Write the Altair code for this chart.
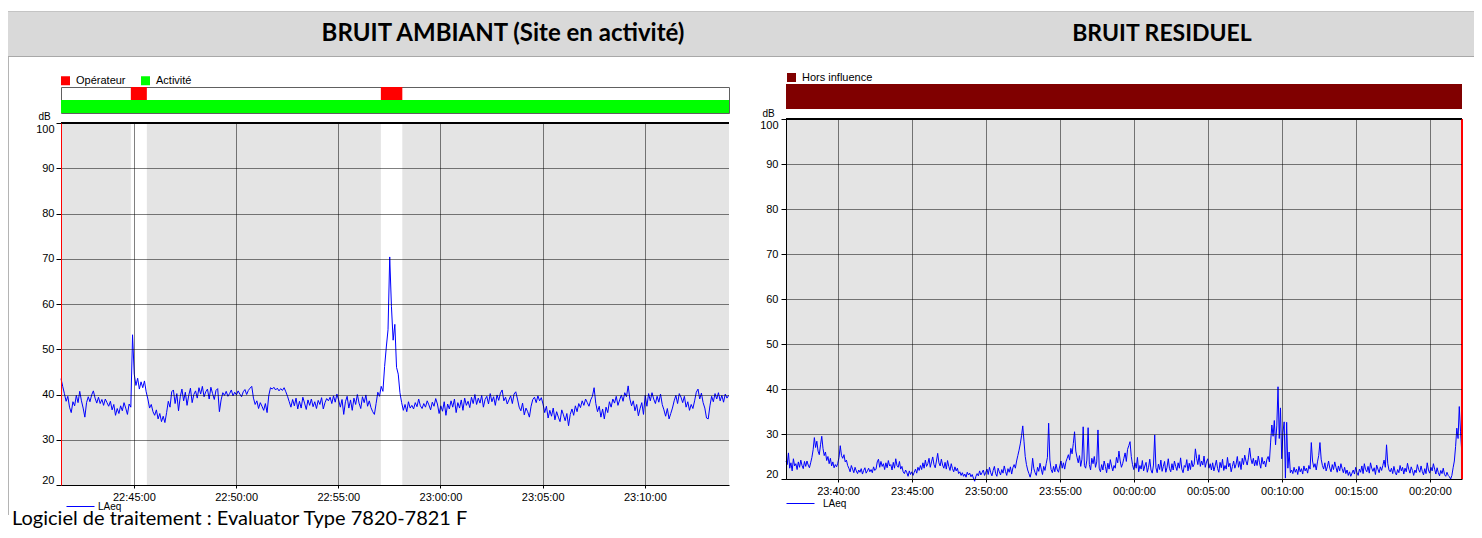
import altair as alt
import pandas as pd
import numpy as np

FONT = "Liberation Sans"
TITLE_FONT = "Lato"

# ---------------- texts ----------------
titre_gauche = "BRUIT AMBIANT (Site en activité)"
titre_droite = "BRUIT RESIDUEL"
pied_de_page = "Logiciel de traitement : Evaluator Type 7820-7821 F"

# ---------------- left panel: ambient noise ----------------
amb_debut = "2024-01-01T22:41:26"
amb_fin = "2024-01-01T23:14:07"
amb_pas_s = 5
amb_laeq = [
    43.5, 41.8, 40.2, 38.5, 39.6, 37.2, 36.0, 38.4, 37.5, 39.8, 38.2, 40.7,
    38.6, 37.0, 35.0, 38.2, 39.5, 38.4, 39.9, 40.8, 39.2, 38.1, 39.4, 38.0,
    38.9, 37.6, 39.0, 38.2, 37.4, 38.5, 36.6, 37.8, 35.4, 36.9, 35.8, 37.5,
    36.4, 38.2, 37.0, 35.6, 37.9, 37.2, 53.2,
    44.5, 42.0, 43.6, 41.2, 42.8, 41.5, 43.0, 40.6,
    39.0, 37.0, 37.8, 36.2, 35.4, 36.6, 34.6, 35.8,
    34.0, 35.2, 33.8, 36.0,
    38.5, 37.2, 40.6, 41.0,
    38.0, 40.2, 36.4, 39.5, 41.2, 38.6, 40.5, 37.6, 39.8, 41.4, 38.2, 40.0,
    40.8, 39.2, 41.5, 40.1, 41.8, 39.5, 40.6, 41.2, 39.0, 41.6, 40.2, 38.9, 40.9, 41.3,
    36.2, 38.8,
    40.4, 39.8, 40.7, 39.6, 40.2, 41.0, 39.7, 40.5, 39.9, 40.8, 40.1, 39.5, 40.6, 41.1, 40.0, 40.9, 41.4, 41.8,
    39.2, 37.8, 38.6, 36.9, 38.2, 37.4, 36.5, 38.0, 36.0,
    39.8, 41.5, 41.2, 41.6, 41.0, 41.4, 40.8, 41.3, 40.9, 41.5, 40.6, 39.6, 38.4,
    37.2, 38.9, 37.5, 39.2, 36.8, 38.5, 37.0, 39.4, 38.1, 36.7, 38.8, 37.6, 39.0, 37.3, 38.4, 36.9, 38.7, 37.8, 39.3, 36.8, 38.2, 39.1,
    38.6, 39.4, 38.0, 39.7, 38.3, 40.1, 38.8, 37.2, 38.9, 35.6,
    38.4, 39.6, 37.0, 38.8, 36.5, 39.2, 37.8, 40.0, 38.1, 36.9, 39.5, 38.2, 39.9, 37.4, 38.6, 37.1, 36.2, 35.6,
    38.0, 40.5, 39.6, 41.8, 40.7,
    46.2, 50.5, 54.3, 70.4, 59.5, 52.0, 55.5, 46.0, 44.5, 40.4, 38.2,
    36.5, 37.8, 36.2, 38.4, 37.0, 37.6, 36.8, 38.2, 37.3, 39.0, 37.5, 36.9, 38.0, 37.2, 38.6, 37.7, 36.6, 38.3, 37.4, 39.1, 37.9,
    35.8, 37.5, 36.3, 38.4, 35.4, 37.9, 36.8, 38.6, 37.2, 39.0, 36.0, 38.2, 37.0, 38.8, 36.5, 39.2, 37.6, 38.5, 37.1, 39.4, 38.0, 40.0,
    37.8, 39.2, 38.1, 39.8, 37.2, 38.9, 39.6, 37.9, 40.2, 38.4, 39.5, 37.6, 39.9, 38.7, 40.3, 41.0, 38.6, 39.4, 37.9, 38.8, 39.7, 38.0, 40.1, 40.6, 39.0,
    37.2, 36.4, 38.1, 35.5, 37.0, 36.2, 35.0, 37.4, 38.9, 39.4,
    38.2, 39.7, 38.6, 39.3, 37.9,
    36.0, 37.4, 34.8, 36.5, 35.2, 37.0, 34.4, 36.2, 35.0, 34.0, 36.6, 35.5, 34.2, 35.8, 33.1,
    35.6, 36.8, 35.4, 37.5, 36.2, 38.0, 37.1, 38.6, 37.6, 39.0, 38.2, 37.4, 38.8, 39.6, 41.5,
    38.0, 36.2, 37.4, 35.0, 36.8, 34.6, 37.2, 36.0,
    38.4, 37.2, 39.0, 38.1, 39.6, 37.6, 38.8, 39.9, 38.5, 40.4, 39.5, 41.9,
    39.0, 37.5, 38.6, 36.4, 37.8, 35.3, 36.9, 38.2, 35.6,
    39.8, 37.4, 40.2,
    38.6, 40.4, 39.0, 38.0, 39.6, 38.3, 40.1, 37.8,
    36.6, 35.2, 36.9, 34.6, 35.8, 37.0,
    38.6, 39.8, 38.0, 40.2, 39.4, 38.2, 39.6,
    37.2, 38.4, 36.5, 37.8, 36.9, 38.6,
    40.5, 41.2, 39.0, 40.3,
    38.2, 37.0, 34.8, 34.6, 37.5,
    39.6, 38.4, 40.2, 39.0, 40.4, 38.6, 39.8, 38.3, 40.1, 39.2, 39.8,
]
amb_operateur_debut = ["2024-01-01T22:44:51", "2024-01-01T22:57:05"]
amb_operateur_fin = ["2024-01-01T22:45:38", "2024-01-01T22:58:08"]
amb_activite_debut = ["2024-01-01T22:41:26"]
amb_activite_fin = ["2024-01-01T23:14:07"]
amb_ticks = ["2024-01-01T22:45:00", "2024-01-01T22:50:00", "2024-01-01T22:55:00",
             "2024-01-01T23:00:00", "2024-01-01T23:05:00", "2024-01-01T23:10:00"]
amb_categories = ["Opérateur", "Activité"]
amb_couleurs = ["#ff0000", "#00ff00"]

# ---------------- right panel: residual noise ----------------
res_debut = "2024-01-01T23:36:29"
res_fin = "2024-01-02T00:22:10"
res_pas_s = 5
res_laeq = [
    24.0, 23.2, 25.8, 22.4, 23.6, 21.8, 24.5, 22.9, 23.4, 22.1, 23.8, 22.6, 24.2, 23.0, 22.3, 23.9, 22.8, 24.0, 23.1, 22.5,
    23.6, 24.8, 26.5, 29.2, 27.0, 28.4, 26.2, 25.4, 27.6, 29.5, 26.8,
    25.2, 26.0, 24.1, 25.0, 23.4, 24.6, 22.9, 23.8, 22.5, 23.2, 22.7,
    23.5, 24.8, 27.4, 25.2, 24.6, 25.4, 23.8, 24.2, 23.0,
    22.4, 21.6, 23.0, 22.2, 21.4, 22.6, 21.8, 21.2, 22.0, 21.5, 22.3, 21.1, 21.9, 22.5, 21.3, 21.8, 22.4, 21.6, 22.1, 21.4, 22.7, 21.9, 22.2,
    23.8, 24.4, 22.6, 23.9, 22.8, 23.4, 22.1, 23.6, 22.5, 24.1, 22.9, 23.2, 22.0, 23.7, 22.4, 24.5, 23.0, 22.6, 23.9, 22.2, 22.8, 21.6,
    21.2, 22.0, 21.4, 20.6, 21.8, 21.0, 21.6, 20.8, 21.5, 22.2, 21.3, 22.6, 21.9,
    23.0, 22.1, 23.6, 22.4, 24.2, 22.8, 23.4, 24.6, 22.6, 23.8, 24.9, 23.2, 22.5, 24.0, 25.7, 23.6,
    22.9, 24.4, 23.1, 22.4, 23.7, 22.2, 24.1, 22.8, 21.9, 23.4, 22.3, 21.6, 22.7, 21.8, 22.4, 21.2,
    21.6, 20.8, 21.4, 20.6, 21.1, 20.4, 21.5, 20.9, 21.3, 20.5, 21.0, 20.2, 19.5, 20.6, 21.2, 20.7, 21.8, 20.9, 21.4, 22.0, 20.8, 21.5,
    22.2, 21.0, 22.6, 21.4, 20.7, 21.9, 22.8, 21.2, 20.6, 22.4, 21.6, 20.9, 22.1, 21.3, 22.9, 21.7, 20.8, 22.3, 21.5, 22.7, 21.1, 22.5, 23.2, 22.4,
    24.0, 25.2, 26.4, 27.8, 29.6, 31.8, 28.4, 25.0, 23.2,
    22.0, 21.2, 20.4, 21.6, 24.6, 22.3, 21.4, 20.8, 22.6, 21.7, 23.5, 22.2, 21.0, 22.8, 21.9, 23.4, 24.8,
    32.4,
    24.2, 22.1, 21.4, 22.8, 21.6, 23.3, 22.0, 21.5, 22.9, 24.0, 22.4, 23.6, 22.2, 23.8, 24.6,
    25.4, 24.2, 26.8, 25.6, 27.9, 30.5, 26.2, 24.8,
    23.6, 25.2, 22.8, 24.4, 31.6,
    23.0, 22.4, 24.2, 31.4,
    23.2, 22.0, 24.6, 23.4, 25.0, 22.6, 23.8,
    30.9,
    22.4, 21.6, 23.2, 22.0, 24.0, 22.8, 21.4, 23.5, 22.2, 24.3, 22.9, 21.8, 23.0, 22.4, 24.8, 23.6, 26.2, 24.0, 22.6, 23.4, 24.6, 25.8, 23.9,
    26.6, 27.4, 28.3, 25.0, 23.2, 22.1,
    23.6, 22.4, 24.8, 21.6, 23.0, 22.2, 24.1, 21.8, 22.9, 23.7, 21.5, 22.6, 24.4, 22.0, 21.3, 23.1,
    29.8,
    22.5, 21.4, 23.3, 22.1, 24.2, 21.7, 22.8, 23.9, 21.5, 22.6, 24.5, 22.3, 21.6, 23.4, 22.0, 24.0,
    22.8, 21.9, 23.6, 22.4, 24.7, 22.2, 21.4, 23.0, 22.6, 24.3, 21.8, 23.5, 22.1, 24.1, 22.7, 23.3,
    26.7, 24.6, 23.2, 25.4, 22.8, 24.0, 23.1, 25.1, 22.6, 23.8, 24.5, 22.4, 23.4,
    22.0, 23.6, 21.8, 22.9, 24.2, 22.3, 21.5, 23.7, 22.5, 24.4, 21.9, 23.0, 22.2, 24.8, 22.7, 23.5, 21.6,
    22.8, 24.0, 22.4, 23.3, 25.0, 22.6, 23.9, 22.1, 24.6, 23.2, 25.3, 24.0, 23.1, 24.7, 26.9, 24.5, 23.4,
    24.6, 22.9, 24.2, 23.0, 25.1, 23.6, 22.4, 24.8, 23.3, 24.0, 22.7, 24.4, 25.0, 23.8,
    28.2, 32.0, 29.5, 33.0, 27.6, 31.8, 40.5, 29.0, 35.8, 24.5, 30.4, 32.7, 20.2, 32.6, 22.4, 26.0,
    21.4, 22.0, 21.2, 22.6, 21.5, 22.2, 21.0, 22.8, 21.6, 22.3, 21.1, 22.9, 21.8, 22.4, 21.3, 23.0, 22.2,
    28.1, 24.0, 22.6, 23.4, 22.0, 23.8, 25.2, 28.1, 24.4,
    23.0, 22.2, 23.6, 21.8, 22.7, 24.0, 22.4, 21.6, 23.2, 22.1, 23.8, 22.6, 21.5, 22.9, 21.8, 23.4, 22.3, 21.4, 22.6, 21.2, 22.0, 20.8, 21.6, 20.6, 21.3,
    22.0, 21.1, 22.6, 21.4, 20.8, 22.2, 21.5, 22.9, 21.2, 23.4, 22.1, 21.6, 22.8, 21.3, 23.6, 22.4, 21.7, 22.5, 21.0, 23.1, 22.2, 21.4, 22.7,
    21.9, 23.0, 24.2, 22.6, 27.6, 23.4, 22.0, 21.6,
    22.4, 21.2, 22.8, 21.5, 20.9, 22.1, 21.4, 23.0, 21.8, 22.6, 21.1, 22.4, 21.6, 23.5, 22.2, 21.3, 22.7, 21.9, 20.8, 22.0,
    21.4, 23.2, 22.1, 21.5, 22.9, 21.7, 20.9, 22.3, 21.2, 23.6, 22.0, 21.3, 22.6, 21.8, 23.4, 22.2, 21.1, 22.5, 21.4, 20.7,
    21.9, 21.2, 22.4, 21.0, 20.6, 21.5, 20.8, 20.5, 20.0,
    20.8, 22.5, 24.0, 27.2, 31.3, 29.0, 36.1, 30.5, 26.0,
]
res_influence_debut = ["2024-01-01T23:36:29"]
res_influence_fin = ["2024-01-02T00:22:10"]
res_ticks = ["2024-01-01T23:40:00", "2024-01-01T23:45:00", "2024-01-01T23:50:00",
             "2024-01-01T23:55:00", "2024-01-02T00:00:00", "2024-01-02T00:05:00",
             "2024-01-02T00:10:00", "2024-01-02T00:15:00", "2024-01-02T00:20:00"]
res_categories = ["Hors influence"]
res_couleurs = ["#800000"]

y_ticks = [20, 30, 40, 50, 60, 70, 80, 90, 100]
serie_nom = "LAeq"

HEADER_GRAY = "#d9d9d9"
BORDER_LIGHT = "#c4c4c4"
BORDER_DARK = "#a8a8a8"
FRAME = "#b4b4b4"
EXT = 4  # the left half's header reaches this far to meet the right half without a seam
RES = dict(x="independent", y="independent", color="independent")
ONE = pd.DataFrame({"s": [0]})


# ---------------- helpers ----------------
def dt(s):
    ts = pd.Timestamp(s)
    return alt.DateTime(year=ts.year, month=ts.month, date=ts.day,
                        hours=ts.hour, minutes=ts.minute, seconds=ts.second)


def serie_df(debut, pas, valeurs, champ):
    t = pd.Timestamp(debut) + pd.to_timedelta(np.arange(len(valeurs)) * pas, unit="s")
    return pd.DataFrame({"t": t.strftime("%Y-%m-%dT%H:%M:%S"), "db": valeurs, champ: serie_nom})


def block(x0, x1, y0, y1, color=None):
    if color:
        return alt.Chart(ONE).mark_rect(color=color).encode(
            x=alt.value(x0), x2=alt.value(x1), y=alt.value(y0), y2=alt.value(y1))
    return alt.Chart(ONE).mark_rect(opacity=0).encode(
        x=alt.value(x0), x2=alt.value(x1), y=alt.value(y0), y2=alt.value(y1))


def cell(w, h, *layers):
    return alt.layer(*layers).properties(width=w, height=h, view=alt.ViewBackground(stroke=None))


def spacer(w, h, extend=0):
    return cell(w, h, block(0, w + extend, 0, h))


def band(w, h, color, extend=0):
    return cell(w, h, block(0, w + extend, 0, h, color))


def margin(w, h, line_h=None):
    return cell(w, h, block(0, w, 0, h), block(0, 1, 0, line_h or h, FRAME))


def text_mark(txt, x, y, size, weight, align="center", baseline="middle"):
    return (alt.Chart(pd.DataFrame({"txt": [txt]}))
            .mark_text(font=TITLE_FONT, fontSize=size, fontWeight=weight, color="black",
                       align=align, baseline=baseline)
            .encode(x=alt.value(x), y=alt.value(y), text="txt:N"))


def x_axis(ticks):
    return alt.Axis(values=[dt(t) for t in ticks], format="%H:%M:%S", labelFont=FONT,
                    labelFontSize=11, labelColor="black", tickSize=3, tickColor="black",
                    labelPadding=3, domainColor="black", grid=True, gridColor="black",
                    gridDash=[1, 1], gridOpacity=1, title=None, zindex=1,
                    labelFlush=False, labelOverlap=False)


def y_axis(domain_color, title_x, title_y, pad):
    return alt.Axis(values=y_ticks, labelFlush=True, labelFont=FONT, labelFontSize=11,
                    labelColor="black", tickSize=5, tickColor="black", labelPadding=pad,
                    domainColor=domain_color, grid=True, gridColor="black", gridDash=[1, 1],
                    gridOpacity=1, title="dB", titleAngle=0, titleX=title_x, titleY=title_y,
                    titleAlign="center", titleBaseline="middle", titleFontWeight="normal",
                    titleFontSize=10, titleFont=FONT, zindex=1, labelOverlap=False)


def main_plot(df, champ, debut, fin, ticks, w, h, ydom_color, title_x, title_y, pad,
              leg_x, leg_y, leg_off, bandes=None, bord_droit=None):
    xs = alt.Scale(domain=[dt(debut), dt(fin)], nice=False)
    ys = alt.Scale(domain=[20, 100], nice=False, zero=False)
    xa = x_axis(ticks)
    ya = y_axis(ydom_color, title_x, title_y, pad)
    layers = []
    if bandes is not None:
        layers.append(alt.Chart(bandes).mark_rect(color="white")
                      .encode(x=alt.X("t0:T", scale=xs, axis=xa), x2="t1:T"))
    line = alt.Chart(df).mark_line(strokeWidth=1).encode(
        x=alt.X("t:T", scale=xs, axis=xa),
        y=alt.Y("db:Q", scale=ys, axis=ya),
        color=alt.Color(f"{champ}:N", scale=alt.Scale(domain=[serie_nom], range=["#0000ff"]),
                        legend=alt.Legend(orient="none", legendX=leg_x, legendY=leg_y, title=None,
                                          symbolType="stroke", symbolSize=784, symbolStrokeWidth=1,
                                          symbolStrokeColor="#0000ff",
                                          labelFont=FONT, labelFontSize=10, labelOffset=leg_off,
                                          padding=0)),
    )
    layers.append(line)
    layers.append(alt.Chart(df).mark_rule(color="black", strokeWidth=1).encode(y=alt.datum(100)))
    if bord_droit is not None:
        layers.append(alt.Chart(df).mark_rule(color="red", strokeWidth=1.5)
                      .encode(x=alt.datum(dt(bord_droit))))
    return alt.layer(*layers).properties(
        width=w, height=h, view=alt.ViewBackground(fill="#e4e4e4", stroke=None))


def event_bar(debuts, fins, cats, champ, domain, colors, debut, fin, w, h, leg_x, leg_y,
              with_rows, stroke=None):
    df = pd.DataFrame({"t0": debuts, "t1": fins, champ: cats})
    xs = alt.Scale(domain=[dt(debut), dt(fin)], nice=False)
    enc = dict(
        x=alt.X("t0:T", scale=xs, axis=None),
        x2="t1:T",
        color=alt.Color(f"{champ}:N", scale=alt.Scale(domain=domain, range=colors),
                        legend=alt.Legend(orient="none", legendX=leg_x, legendY=leg_y, title=None,
                                          direction="horizontal", symbolType="square",
                                          symbolSize=81, symbolStrokeWidth=0, labelFont=FONT,
                                          labelFontSize=11, labelOffset=5, columnPadding=14,
                                          padding=0)),
    )
    if with_rows:
        enc["y"] = alt.Y(f"{champ}:N", scale=alt.Scale(domain=domain, paddingInner=0, paddingOuter=0),
                         axis=None)
    view = alt.ViewBackground(fill="white", stroke=stroke) if stroke else alt.ViewBackground(fill="white", stroke=None)
    return alt.Chart(df).mark_rect().encode(**enc).properties(width=w, height=h, view=view)


# ---------------- panels ----------------
amb_df = serie_df(amb_debut, amb_pas_s, amb_laeq, "serie_l")
amb_bandes = pd.DataFrame({"t0": amb_operateur_debut, "t1": amb_operateur_fin})
left_event = event_bar(amb_activite_debut + amb_operateur_debut,
                       amb_activite_fin + amb_operateur_fin,
                       ["Activité"] * len(amb_activite_debut) + ["Opérateur"] * len(amb_operateur_debut),
                       "evt_l", amb_categories, amb_couleurs, amb_debut, amb_fin,
                       668, 26, -1, -12, True, stroke="#606060")
left_plot = main_plot(amb_df, "serie_l", amb_debut, amb_fin, amb_ticks, 668, 362, "red",
                      -17, -7, 2, 5, 369, 3, bandes=amb_bandes)

res_df = serie_df(res_debut, res_pas_s, res_laeq, "serie_r")
right_event = event_bar(res_influence_debut, res_influence_fin, res_categories, "evt_r",
                        res_categories, res_couleurs, res_debut, res_fin, 676, 25, 0, -12, False)
right_plot = main_plot(res_df, "serie_r", res_debut, res_fin, res_ticks, 676, 360, "black",
                       -18, -6, 3, 0, 370, 8, bord_droit=res_fin)

# ---------------- left half: 2-column grid ----------------
WL = [53, 668]
lc = []
lc += [spacer(WL[0], 3), spacer(WL[1], 3, EXT)]
lc += [band(WL[0], 1, BORDER_LIGHT), band(WL[1], 1, BORDER_LIGHT, EXT)]
lc += [band(WL[0], 44, HEADER_GRAY),
       cell(WL[1], 44, block(0, WL[1] + EXT, 0, 44, HEADER_GRAY),
            text_mark(titre_gauche, 442, 22, 24, "bold"))]
lc += [band(WL[0], 1, BORDER_DARK), band(WL[1], 1, BORDER_DARK, EXT)]
lc += [margin(WL[0], 30), spacer(WL[1], 30)]
lc += [margin(WL[0], 26), left_event]
lc += [margin(WL[0], 10), spacer(WL[1], 10)]
lc += [margin(WL[0], 362), left_plot]
lc += [cell(WL[0], 45, block(0, WL[0], 0, 45), block(0, 1, 0, 30, FRAME),
            text_mark(pied_de_page, 4, 40, 20, "normal", align="left", baseline="alphabetic")),
       spacer(WL[1], 45)]
left_half = (alt.concat(*lc, columns=2, spacing=0, bounds="flush", align="none")
             .resolve_scale(**RES))

# ---------------- right half: 3-column grid (gap, panel, margin) ----------------
WR = [57 - EXT, 676, 12]
rc = []
rc += [spacer(w, 3) for w in WR]
rc += [band(w, 1, BORDER_LIGHT) for w in WR]
rc += [band(WR[0], 44, HEADER_GRAY),
       cell(WR[1], 44, block(0, WR[1], 0, 44, HEADER_GRAY),
            text_mark(titre_droite, 376, 22, 23, "bold")),
       band(WR[2], 44, HEADER_GRAY)]
rc += [band(w, 1, BORDER_DARK) for w in WR]
rc += [spacer(w, 27) for w in WR]
rc += [spacer(WR[0], 25), right_event, spacer(WR[2], 25)]
rc += [spacer(w, 10) for w in WR]
rc += [spacer(WR[0], 360), right_plot, spacer(WR[2], 360)]
rc += [spacer(w, 40) for w in WR]
right_half = (alt.concat(*rc, columns=3, spacing=0, bounds="flush", align="none")
              .resolve_scale(**RES))

chart = (alt.hconcat(left_half, right_half, spacing=0)
         .resolve_scale(**RES)
         .properties(padding=0, background="white")
         .configure_view(stroke=None)
         .configure(font=FONT))

chart.save("out.html", embed_options={"renderer": "svg", "actions": False})
